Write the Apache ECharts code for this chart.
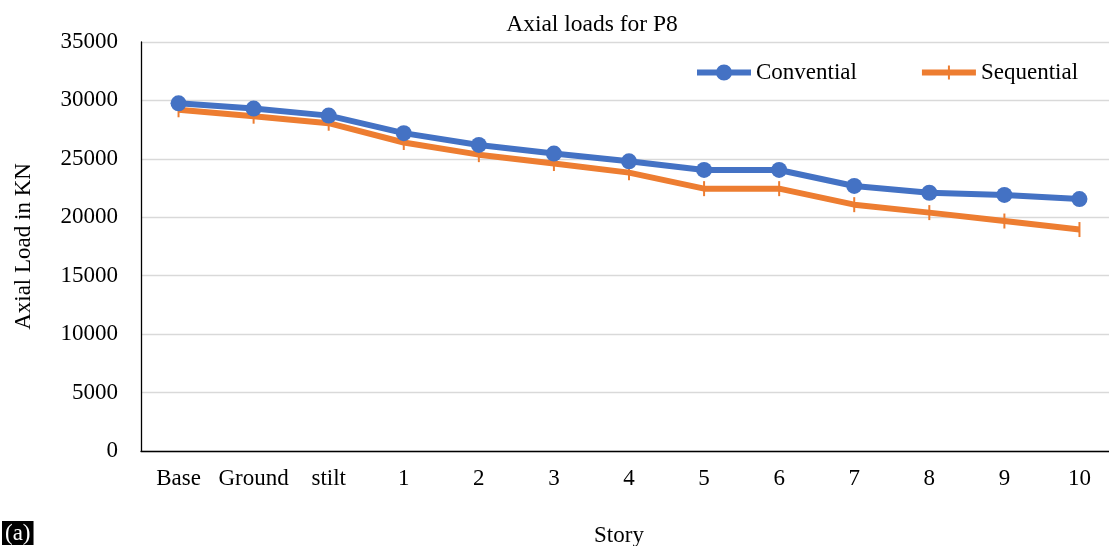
<!DOCTYPE html>
<html>
<head>
<meta charset="utf-8">
<script src="https://cdn.jsdelivr.net/npm/echarts@6/dist/echarts.min.js"></script>
<style>html,body{margin:0;padding:0;background:#fff;}#c{width:1109px;height:546px;}</style>
</head>
<body>
<div id="c"></div>
<script>
const categories = ['Base','Ground','stilt','1','2','3','4','5','6','7','8','9','10'];
const conventional = [29750, 29300, 28700, 27200, 26190, 25450, 24790, 24050, 24050, 22680, 22100, 21910, 21560];
const sequential = [29200, 28650, 28050, 26400, 25360, 24600, 23820, 22450, 22450, 21080, 20400, 19680, 18950];
const yTicks = { min: 0, max: 35000, interval: 5000 };

const font = '"Liberation Serif", "Times New Roman", serif';
const FS = 23;
const chart = echarts.init(document.getElementById('c'));
chart.setOption({
  animation: false,
  backgroundColor: '#fff',
  textStyle: { fontFamily: font },
  title: {
    text: 'Axial loads for P8',
    left: 587, textAlign: 'center', top: 8,
    textStyle: { fontFamily: font, fontSize: 23.5, fontWeight: 'normal', color: '#000' }
  },
  legend: {
    top: 56, left: 692,
    itemWidth: 54, itemHeight: 16, itemGap: 65,
    lineStyle: { width: 6 },
    textStyle: { fontFamily: font, fontSize: FS, color: '#000' },
    formatter: n => n === 'Conventional_' ? 'Convential' : n,
    data: [
      { name: 'Conventional_', icon: 'path://M0,5L20,5L20,11L0,11Z M34,5L54,5L54,11L34,11Z M19,8a8,8 0 1,1 16,0a8,8 0 1,1 -16,0Z' },
      { name: 'Sequential', icon: 'path://M0,5L26,5L26,11L0,11Z M28,5L54,5L54,11L28,11Z M26,1L28,1L28,15L26,15Z' }
    ]
  },
  grid: { left: 141, top: 42, width: 976, height: 409, containLabel: false, outerBoundsMode: 'none' },
  xAxis: {
    type: 'category', data: categories, boundaryGap: true,
    name: 'Story', nameLocation: 'middle', nameGap: 73,
    nameTextStyle: { fontFamily: font, fontSize: FS, color: '#000', padding: [0, 20, 0, 0] },
    axisLine: { lineStyle: { color: '#000', width: 1.3 } },
    axisTick: { show: false },
    axisLabel: { fontFamily: font, fontSize: FS, color: '#000', margin: 16, interval: 0 }
  },
  yAxis: {
    type: 'value', min: yTicks.min, max: yTicks.max, interval: yTicks.interval,
    name: 'Axial Load in KN', nameLocation: 'middle', nameGap: 106, nameRotate: 90,
    nameTextStyle: { fontFamily: font, fontSize: FS, color: '#000' },
    axisLine: { show: true, lineStyle: { color: '#000', width: 1.3 } },
    axisTick: { show: false },
    axisLabel: { fontFamily: font, fontSize: FS, color: '#000', margin: 23, formatter: v => String(v) },
    splitLine: { lineStyle: { color: '#d9d9d9', width: 1.3 } }
  },
  series: [
    {
      name: 'Conventional_', type: 'line', data: conventional,
      symbol: 'circle', symbolSize: 16,
      lineStyle: { color: '#4472c4', width: 6 },
      itemStyle: { color: '#4472c4' }, z: 3
    },
    {
      name: 'Sequential', type: 'line', data: sequential,
      symbol: 'rect', symbolSize: [2, 15],
      lineStyle: { color: '#ed7d31', width: 6 },
      itemStyle: { color: '#ed7d31' }, z: 2
    }
  ],
  graphic: [{
    type: 'text', left: 2, top: 521,
    style: { text: '(a)', fill: '#fff', backgroundColor: '#000', font: '23px ' + font, padding: [1, 3, 0, 3] }
  }]
});
</script>
</body>
</html>
